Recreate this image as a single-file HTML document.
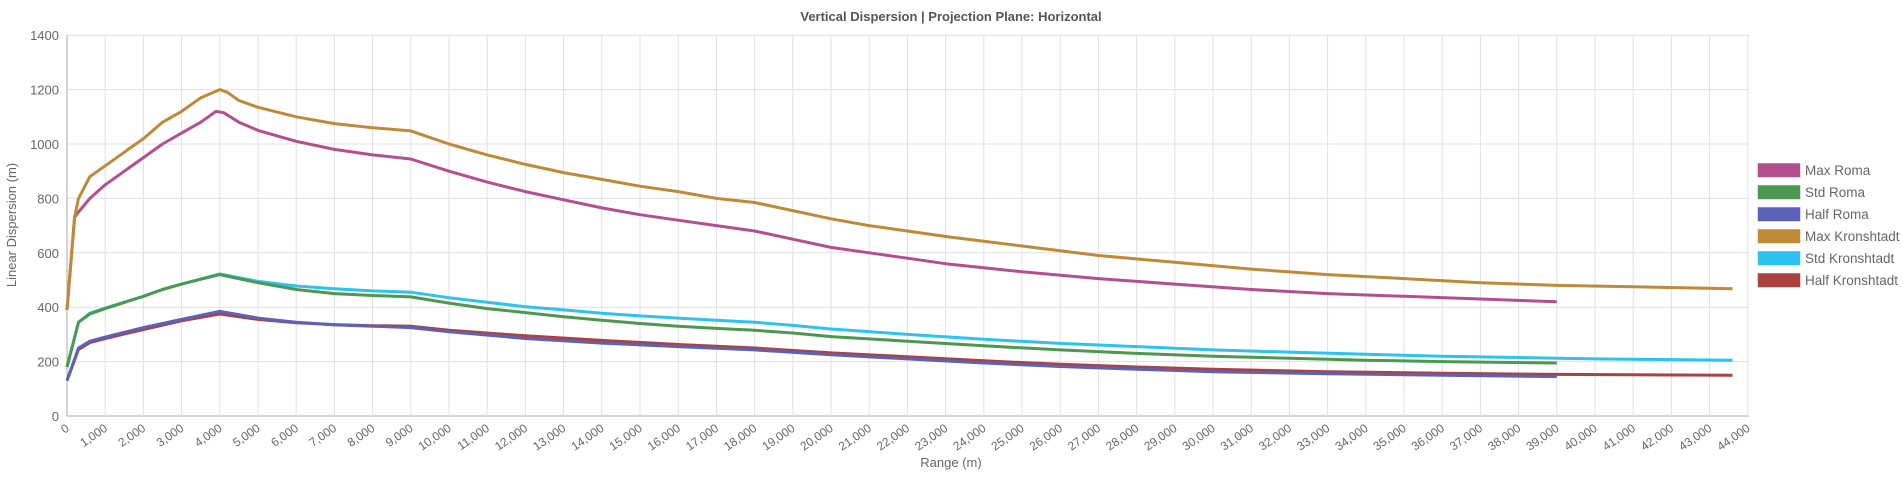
<!DOCTYPE html>
<html><head><meta charset="utf-8"><style>
html,body{margin:0;padding:0;background:#fff;}
svg text{font-family:"Liberation Sans",sans-serif;fill:#666;}
</style></head><body>
<svg id="c" width="1903" height="475" xmlns="http://www.w3.org/2000/svg"></svg>
<script>
const svg=document.getElementById('c');
const X0=67,XS=38.2/1000,Y0=416,YS=54.4/200;
const X=v=>X0+v*XS, Y=v=>Y0-v*YS;
let h='';
h+='<text x="951" y="21" text-anchor="middle" font-size="13" font-weight="bold" style="fill:#555">Vertical Dispersion | Projection Plane: Horizontal</text>';
for(let v=0;v<=1400;v+=200){const y=Y(v);
 h+=`<line x1="${X0}" x2="1749" y1="${y}" y2="${y}" stroke="${v?'#e0e0e0':'#aaa'}" stroke-width="1"/>`;
 h+=`<text x="${X0-8}" y="${y+5}" text-anchor="end" font-size="13">${v}</text>`;}
for(let k=0;k<=44;k++){const x=X(k*1000);
 h+=`<line x1="${x}" x2="${x}" y1="${Y(1400)}" y2="${Y0}" stroke="${k?'#e0e0e0':'#aaa'}" stroke-width="1"/>`;
 const lab=k?(k*1000).toLocaleString('en-US'):'0';
 h+=`<text transform="translate(${x+3},${Y0+14}) rotate(-35)" text-anchor="end" font-size="12">${lab}</text>`;}
h+='<text x="951" y="467" text-anchor="middle" font-size="13">Range (m)</text>';
h+='<text transform="translate(16,225) rotate(-90)" text-anchor="middle" font-size="13">Linear Dispersion (m)</text>';
const S=[
['Max Roma','#b44f8f',[[0,390],[200,730],[300,750],[600,800],[1000,850],[2000,950],[2500,1000],[3000,1040],[3500,1080],[3900,1120],[4100,1115],[4500,1080],[5000,1050],[6000,1010],[7000,980],[8000,960],[9000,945],[10000,900],[11000,860],[12000,825],[13000,795],[14000,765],[15000,740],[16000,720],[17000,700],[18000,680],[19000,650],[20000,620],[21000,600],[22000,580],[23000,560],[25000,530],[27000,505],[29000,485],[31000,465],[33000,450],[35000,440],[37000,430],[39000,420]]],
['Max Kronshtadt','#bf8a38',[[0,390],[200,730],[300,800],[600,880],[1000,920],[2000,1020],[2500,1080],[3000,1120],[3500,1170],[4000,1200],[4200,1190],[4500,1160],[5000,1135],[6000,1100],[7000,1075],[8000,1060],[9000,1048],[10000,1000],[11000,960],[12000,925],[13000,895],[14000,870],[15000,845],[16000,825],[17000,800],[18000,785],[19000,755],[20000,725],[21000,700],[22000,680],[23000,660],[25000,625],[27000,590],[29000,565],[31000,540],[33000,520],[35000,505],[37000,490],[39000,480],[41000,475],[43600,468]]],
['Half Kronshtadt','#ad4040',[[0,130],[300,245],[600,270],[1000,285],[2000,318],[3000,350],[4000,375],[5000,355],[6000,343],[7000,336],[8000,332],[9000,330],[10000,315],[12000,295],[14000,278],[16000,263],[18000,250],[20000,232],[22000,218],[24000,203],[26000,190],[28000,180],[30000,172],[33000,163],[36000,157],[39000,153],[43600,150]]],
['Half Roma','#5b62b8',[[0,130],[300,250],[600,275],[1000,290],[2000,325],[3000,355],[4000,385],[5000,360],[6000,345],[7000,335],[8000,330],[9000,325],[10000,310],[12000,285],[14000,268],[16000,255],[18000,243],[20000,225],[22000,210],[24000,195],[26000,182],[28000,172],[30000,163],[33000,155],[36000,150],[39000,145]]],
['Std Kronshtadt','#2bc3ef',[[0,180],[300,345],[600,378],[1000,397],[2000,440],[2500,465],[3000,485],[4000,522],[5000,495],[6000,478],[7000,468],[8000,460],[9000,455],[10000,435],[11000,418],[12000,402],[13000,390],[14000,378],[15000,368],[16000,360],[17000,352],[18000,345],[19000,333],[20000,320],[22000,300],[24000,282],[26000,267],[28000,255],[30000,243],[32000,235],[34000,227],[36000,220],[38000,215],[40000,210],[43600,205]]],
['Std Roma','#4c9850',[[0,180],[300,345],[600,375],[1000,395],[2000,440],[2500,465],[3000,485],[4000,520],[5000,490],[6000,465],[7000,450],[8000,443],[9000,438],[10000,415],[11000,395],[12000,380],[13000,365],[14000,352],[15000,340],[16000,330],[17000,322],[18000,315],[19000,305],[20000,292],[22000,275],[24000,258],[26000,243],[28000,230],[30000,220],[32000,212],[34000,205],[36000,200],[39000,195]]]
];
for(const s of S){h+=`<polyline fill="none" stroke="${s[1]}" stroke-width="3" stroke-linejoin="round" points="${s[2].map(p=>X(p[0]).toFixed(1)+','+Y(p[1]).toFixed(1)).join(' ')}"/>`;}
const L=[['Max Roma','#b44f8f'],['Std Roma','#4c9850'],['Half Roma','#5b62b8'],['Max Kronshtadt','#bf8a38'],['Std Kronshtadt','#2bc3ef'],['Half Kronshtadt','#ad4040']];
L.forEach((l,i)=>{const y=163+i*22;
 h+=`<rect x="1757.5" y="${y}" width="43" height="14.5" fill="${l[1]}" stroke="#fff" stroke-opacity="0.5"/>`;
 h+=`<text x="1805" y="${y+12}" font-size="13.5">${l[0]}</text>`;});
svg.innerHTML=h;
</script>
</body></html>
